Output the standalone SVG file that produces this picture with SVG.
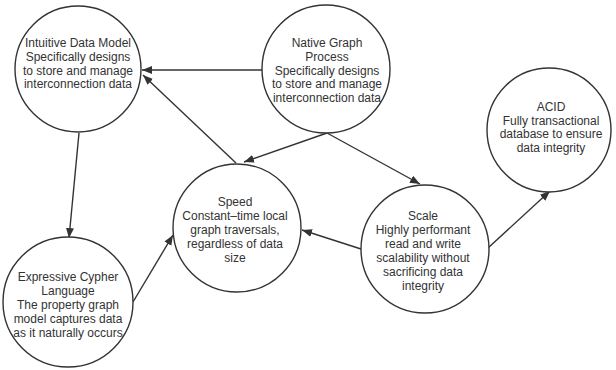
<svg xmlns="http://www.w3.org/2000/svg" width="616" height="370" viewBox="0 0 616 370">
<style>
.node circle{fill:#fff;stroke:#333;stroke-width:1.4}
.node text{font-family:"Liberation Sans",Arial,sans-serif;font-size:12px;fill:#333;text-anchor:middle}
.edge{stroke:#333;stroke-width:1.4;fill:none;marker-end:url(#ah)}
</style>
<defs>
<marker id="ah" viewBox="0 0 10 10" refX="10" refY="5" markerWidth="10" markerHeight="10" markerUnits="userSpaceOnUse" orient="auto">
<path d="M0,1 L10,5 L0,9 Z" fill="#333"/>
</marker>
</defs>
<rect width="616" height="370" fill="#fff"/>
<g id="connectors">
<line class="edge" x1="263" y1="70" x2="142" y2="70"/>
<line class="edge" x1="236" y1="163" x2="143" y2="75"/>
<line class="edge" x1="327" y1="133" x2="244" y2="162"/>
<line class="edge" x1="327" y1="133" x2="420" y2="184"/>
<line class="edge" x1="488" y1="248" x2="550" y2="191"/>
<line class="edge" x1="361" y1="249" x2="302" y2="230"/>
<line class="edge" x1="79" y1="133" x2="69" y2="238"/>
<line class="edge" x1="133" y1="302" x2="173" y2="235"/>
</g>
<g id="intuitive" class="node">
<circle cx="78" cy="69" r="63"/>
<text x="78" y="47">Intuitive Data Model</text>
<text x="78" y="61">Specifically designs</text>
<text x="78" y="75">to store and manage</text>
<text x="78" y="88">interconnection data</text>
</g>
<g id="native" class="node">
<circle cx="326" cy="69" r="64"/>
<text x="327" y="47">Native Graph</text>
<text x="327" y="61">Process</text>
<text x="327" y="75">Specifically designs</text>
<text x="327" y="88">to store and manage</text>
<text x="327" y="102">interconnection data</text>
</g>
<g id="acid" class="node">
<circle cx="549" cy="130" r="62"/>
<text x="551" y="111">ACID</text>
<text x="551" y="125">Fully transactional</text>
<text x="551" y="138">database to ensure</text>
<text x="551" y="152">data integrity</text>
</g>
<g id="speed" class="node">
<circle cx="237" cy="228" r="64"/>
<text x="235" y="206">Speed</text>
<text x="235" y="220">Constant–time local</text>
<text x="235" y="234">graph traversals,</text>
<text x="235" y="248">regardless of data</text>
<text x="235" y="262">size</text>
</g>
<g id="scale" class="node">
<circle cx="425" cy="249" r="64"/>
<text x="423" y="220">Scale</text>
<text x="423" y="234">Highly performant</text>
<text x="423" y="248">read and write</text>
<text x="423" y="262">scalability without</text>
<text x="423" y="276">sacrificing data</text>
<text x="423" y="290">integrity</text>
</g>
<g id="expressive" class="node">
<circle cx="68" cy="302" r="65"/>
<text x="68" y="281">Expressive Cypher</text>
<text x="68" y="295">Language</text>
<text x="68" y="309">The property graph</text>
<text x="68" y="323">model captures data</text>
<text x="68" y="337">as it naturally occurs</text>
</g>
</svg>
